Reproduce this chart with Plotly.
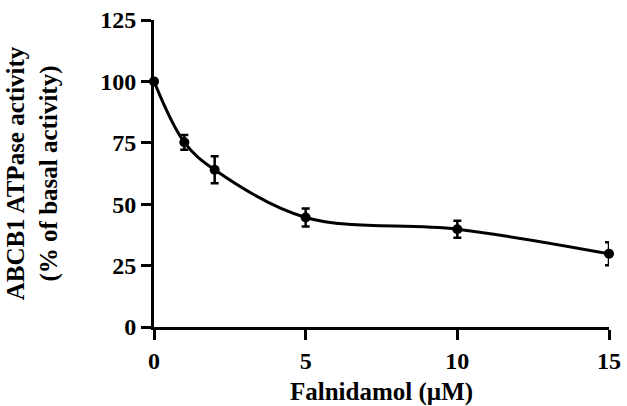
import plotly.graph_objects as go

conc = [0, 1, 2, 5, 10, 15]
activity = [100, 75.2, 64, 44.6, 39.8, 29.8]
sem = [0, 3.0, 5.5, 3.7, 3.5, 4.7]
x_ticks = [0, 5, 10, 15]
y_ticks = [0, 25, 50, 75, 100, 125]

font_family = "Liberation Serif, Times New Roman, serif"

fig = go.Figure()
fig.add_trace(go.Scatter(
    x=conc, y=activity, mode="lines", line=dict(shape="spline", smoothing=1.0, color="black", width=3),
    hoverinfo="skip", showlegend=False, cliponaxis=False))
fig.add_trace(go.Scatter(
    x=conc, y=activity, mode="markers",
    marker=dict(size=10, color="black"),
    error_y=dict(type="data", array=sem, visible=True, color="black", thickness=2.5, width=4),
    showlegend=False, cliponaxis=False))

axis_common = dict(
    showline=True, linecolor="black", linewidth=3,
    ticks="outside", ticklen=10, tickwidth=3, tickcolor="black",
    showgrid=False, zeroline=False, automargin=False,
    tickfont=dict(family=font_family, size=24, color="black", weight="bold"),
)

fig.update_layout(
    width=627, height=406,
    margin=dict(l=154, r=18, t=20, b=79),
    plot_bgcolor="white", paper_bgcolor="white",
    font=dict(family=font_family, color="black"),
    xaxis=dict(range=[0, 15], tickvals=x_ticks, ticktext=[str(v) for v in x_ticks],
               title=dict(text="<b>Falnidamol (µM)</b>", font=dict(family=font_family, size=25), standoff=10),
               **axis_common),
    yaxis=dict(range=[0, 125], tickvals=y_ticks, ticktext=[str(v) for v in y_ticks],
               title=dict(text="<b>ABCB1 ATPase activity<br>(% of basal activity)</b>",
                          font=dict(family=font_family, size=25), standoff=36),
               **axis_common),
)

fig.write_html("out.html", config={"displayModeBar": False},
               post_script="document.body.style.margin='0';document.body.style.overflow='hidden';")
